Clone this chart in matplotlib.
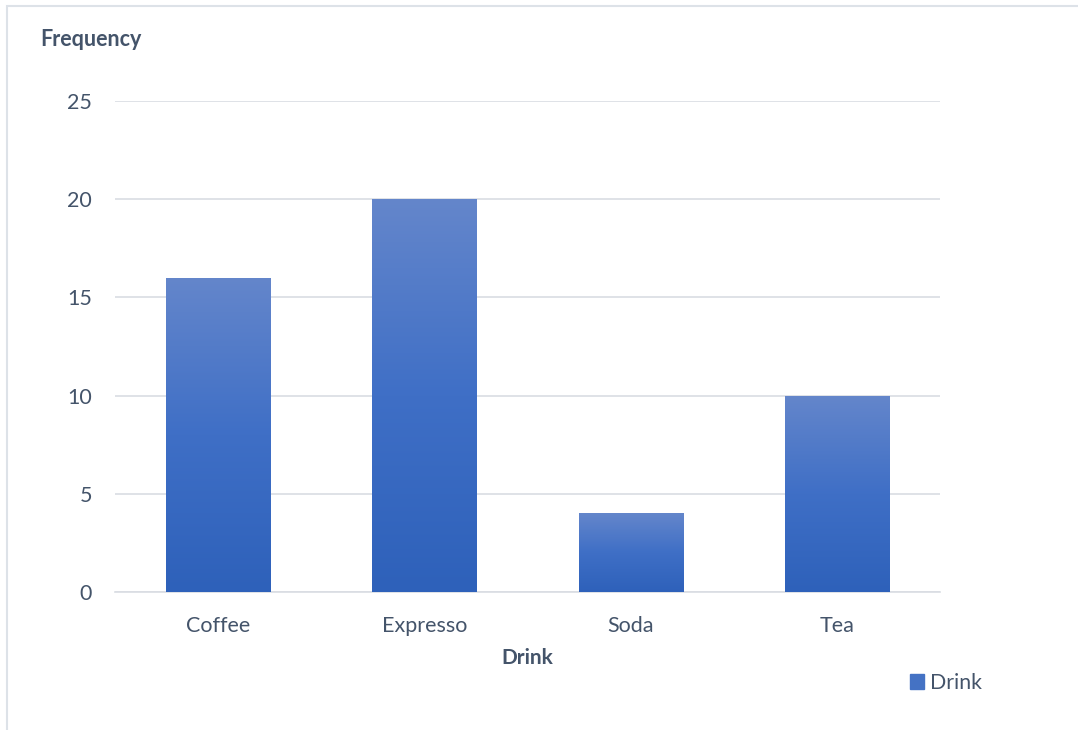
import matplotlib
matplotlib.use("Agg")
import matplotlib.pyplot as plt
import numpy as np
from matplotlib.colors import LinearSegmentedColormap
from matplotlib.patches import Rectangle

drinks = ["Coffee", "Expresso", "Soda", "Tea"]
frequency = [16, 20, 4, 10]
yticks = [0, 5, 10, 15, 20, 25]

plt.rcParams["font.family"] = ["Lato", "DejaVu Sans"]
text_col = "#44546A"
grid_col = "#D9DDE3"

fig = plt.figure(figsize=(10.78, 7.30), dpi=100)
ax = fig.add_axes([0.1067, 0.189, 0.7653, 0.6726])

x = np.arange(len(drinks))
bars = ax.bar(x, frequency, width=0.505, color="#4472C4", zorder=2, label="Drink")

# gradient fill per bar, light on top, dark at the bottom
grad = LinearSegmentedColormap.from_list("g", ["#2E61BA", "#3F6FC6", "#6486CB"])
g = np.linspace(0, 1, 256).reshape(-1, 1)
for p in bars:
    x0, y0 = p.get_x(), p.get_y()
    im = ax.imshow(g, extent=[x0, x0 + p.get_width(), y0, y0 + p.get_height()],
                   origin="lower", aspect="auto", cmap=grad, zorder=3)
    im.set_clip_path(p)

ax.set_xlim(-0.5, len(drinks) - 0.5)
ax.set_ylim(0, 25)
ax.set_yticks(yticks)
ax.set_xticks(x)
ax.set_xticklabels(drinks)
ax.grid(axis="y", color=grid_col, linewidth=1.2, zorder=0)
ax.set_axisbelow(True)
for s in ["top", "right", "left"]:
    ax.spines[s].set_visible(False)
ax.spines["bottom"].set_color(grid_col)
ax.spines["bottom"].set_linewidth(1.2)
ax.tick_params(length=0, labelsize=15.5, colors=text_col)
ax.tick_params(axis="y", pad=16.5)
ax.tick_params(axis="x", pad=17)

ax.set_xlabel("Drink", fontsize=15, fontweight="bold", color=text_col, labelpad=9)
fig.text(40 / 1078, 1 - 40 / 730, "Frequency", fontsize=15.5, fontweight="bold",
         color=text_col, va="center", ha="left")

# legend
leg = fig.legend(handles=[bars], labels=["Drink"], loc="center left",
                 bbox_to_anchor=(891 / 1078, 1 - 683 / 730), frameon=False,
                 fontsize=15.3, handlelength=0.65, handleheight=0.65,
                 handletextpad=0.3, labelcolor=text_col)
leg.legend_handles[0].set_color("#4472C4")

# chart frame
fig.patches.append(Rectangle((7 / 1078, -0.1), 1.2, 1.1 - 6 / 730,
                             transform=fig.transFigure, fill=False,
                             edgecolor="#DDE2E8", linewidth=1.5))

fig.savefig("out.png", dpi=100)
